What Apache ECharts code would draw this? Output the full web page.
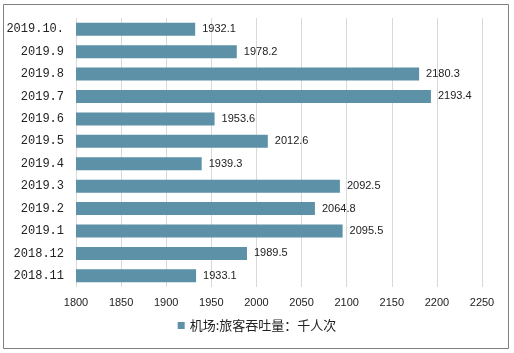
<!DOCTYPE html>
<html>
<head>
<meta charset="utf-8">
<script src="https://cdn.jsdelivr.net/npm/echarts@6/dist/echarts.min.js"></script>
<style>
  html, body { margin: 0; padding: 0; background: #fff; }
  #chart { width: 514px; height: 353px; }
</style>
</head>
<body>
<div id="chart"></div>
<script>
// bottom-to-top order (category axis starts at the bottom)
const months = ['2018.11', '2018.12', '2019.1', '2019.2', '2019.3', '2019.4',
  '2019.5', '2019.6', '2019.7', '2019.8', '2019.9', '2019.10.'];
const passengers = [1933.1, 1989.5, 2095.5, 2064.8, 2092.5, 1939.3,
  2012.6, 1953.6, 2193.4, 2180.3, 1978.2, 1932.1];
const seriesName = '机场:旅客吞吐量：千人次';

const chart = echarts.init(document.getElementById('chart'));

chart.setOption({
  animation: false,
  graphic: [
    {
      type: 'rect',
      shape: { x: 3.5, y: 4.5, width: 505, height: 344 },
      style: { fill: 'none', stroke: '#7f7f7f', lineWidth: 1 },
      silent: true
    }
  ],
  grid: { left: 76, right: 32, top: 18, bottom: 66 },
  legend: {
    bottom: 16,
    left: 'center',
    itemWidth: 7,
    itemHeight: 7,
    icon: 'rect',
    textStyle: { fontFamily: 'Noto Sans CJK SC', fontSize: 13, color: '#222' },
    data: [seriesName]
  },
  xAxis: {
    type: 'value',
    min: 1800,
    max: 2250,
    interval: 50,
    axisLine: { show: false },
    axisTick: { show: false },
    axisLabel: {
      fontFamily: 'Liberation Sans',
      fontSize: 11,
      color: '#222',
      margin: 10,
      formatter: v => String(v)
    },
    splitLine: { lineStyle: { color: '#d9d9d9' } }
  },
  yAxis: {
    type: 'category',
    data: months,
    axisLine: { show: false },
    axisTick: { show: false },
    axisLabel: { fontFamily: 'Liberation Mono', fontSize: 12, color: '#222', margin: 12 }
  },
  series: [
    {
      name: seriesName,
      type: 'bar',
      data: passengers,
      barWidth: 13,
      itemStyle: { color: '#5d91a7' },
      label: {
        show: true,
        position: 'right',
        distance: 7,
        fontFamily: 'Liberation Sans',
        fontSize: 11,
        color: '#222'
      }
    }
  ]
});
</script>
</body>
</html>
